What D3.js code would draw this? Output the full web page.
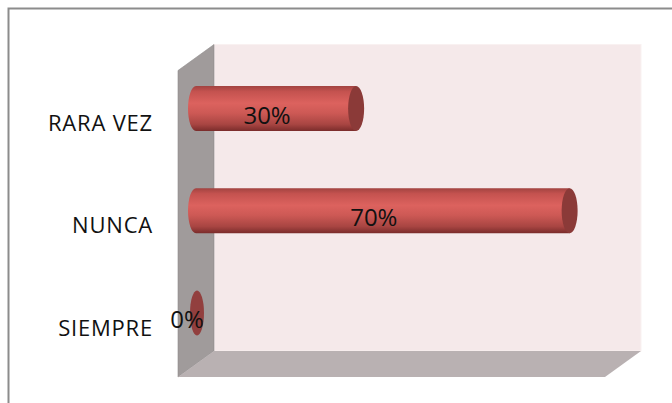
<!DOCTYPE html>
<html>
<head>
<meta charset="utf-8">
<script src="https://cdn.jsdelivr.net/npm/d3@7"></script>
<style>
  body { margin: 0; background: #fff; }
  text { font-family: "Open Sans", sans-serif; fill: #111; }
</style>
</head>
<body>
<div id="chart"></div>
<script>
// data
const categories = ["RARA VEZ", "NUNCA", "SIEMPRE"];
const values = [0.30, 0.70, 0.00];
const valueLabels = ["30%", "70%", "0%"];

const width = 672, height = 403;
const depth = { dx: 36, dy: -26 }; // front -> back offset of the 3d box

const svg = d3.select("#chart").append("svg")
    .attr("width", width)
    .attr("height", height);

// outer frame (runs off the page on the right and bottom)
svg.append("rect")
    .attr("x", 8.5).attr("y", 8.5)
    .attr("width", 700).attr("height", 420)
    .attr("fill", "none")
    .attr("stroke", "#8c8c8c")
    .attr("stroke-width", 2);

// scales work on the middle depth plane
const xScale = d3.scaleLinear().domain([0, 0.8]).range([196, 623]);
const yScale = d3.scaleBand().domain(categories)
    .range([57.5, 364])
    .paddingInner(0.56)
    .paddingOuter(0.28);

const x0 = xScale.range()[0], x1 = xScale.range()[1];
const y0 = yScale.range()[0], y1 = yScale.range()[1];
const fx = -depth.dx / 2, fy = -depth.dy / 2;   // to front plane
const bx = depth.dx / 2, by = depth.dy / 2;     // to back plane

const walls = svg.append("g").attr("class", "walls");

// back wall
walls.append("rect")
    .attr("x", x0 + bx).attr("y", y0 + by)
    .attr("width", x1 - x0).attr("height", y1 - y0)
    .attr("fill", "#f5e9ea")
    .attr("stroke", "#f9f1f1");

// left side wall
walls.append("path")
    .attr("d", d3.line()([
        [x0 + fx, y0 + fy], [x0 + bx, y0 + by],
        [x0 + bx, y1 + by], [x0 + fx, y1 + fy]
    ]) + "Z")
    .attr("fill", "#a09b9b")
    .attr("stroke", "#8f8b8b")
    .attr("stroke-width", 0.6);

// floor
walls.append("path")
    .attr("d", d3.line()([
        [x0 + fx, y1 + fy], [x0 + bx, y1 + by],
        [x1 + bx, y1 + by], [x1 + fx, y1 + fy]
    ]) + "Z")
    .attr("fill", "#b9b1b2");

// gradient for the cylinder body
const defs = svg.append("defs");
const grad = defs.append("linearGradient")
    .attr("id", "cyl")
    .attr("x1", 0).attr("y1", 0).attr("x2", 0).attr("y2", 1);
[
    [0, "#a24341"], [0.12, "#c4524f"], [0.38, "#dc625e"],
    [0.6, "#cd5955"], [0.85, "#a84542"], [1, "#7a2c2b"]
].forEach(s => grad.append("stop").attr("offset", s[0]).attr("stop-color", s[1]));

const rx = 8;
const bars = svg.append("g").attr("class", "bars")
    .selectAll("g")
    .data(categories)
    .enter().append("g");

bars.each(function(c, i) {
    const g = d3.select(this);
    const v = values[i];
    const top = yScale(c), bh = yScale.bandwidth(), ry = bh / 2;
    const cy = top + ry;
    const xs = xScale(0), xe = xScale(v);

    if (v > 0) {
        // body with rounded left end
        g.append("path")
            .attr("d", `M${xs},${top} L${xe},${top} L${xe},${top + bh} L${xs},${top + bh}` +
                `A${rx},${ry} 0 0 1 ${xs},${top} Z`)
            .attr("fill", "url(#cyl)");
        // right end cap
        g.append("ellipse")
            .attr("cx", xe).attr("cy", cy)
            .attr("rx", rx).attr("ry", ry)
            .attr("fill", "#8b3a38");
    } else {
        g.append("ellipse")
            .attr("cx", xe + 1).attr("cy", cy)
            .attr("rx", rx - 1).attr("ry", ry)
            .attr("fill", "#903534")
            .attr("opacity", 0.9);
    }

    // value label
    g.append("text")
        .attr("x", xScale(v / 2) + fx / 2)
        .attr("y", cy + 7)
        .attr("dy", "0.35em")
        .attr("text-anchor", "middle")
        .style("font-size", "24px")
        .text(valueLabels[i]);
});

// category labels
svg.append("g").attr("class", "cats")
    .selectAll("text")
    .data(categories)
    .enter().append("text")
    .attr("x", 153)
    .attr("y", d => yScale(d) + yScale.bandwidth() / 2 + 15)
    .attr("dy", "0.35em")
    .attr("text-anchor", "end")
    .style("font-size", "22px")
    .style("letter-spacing", "0.8px")
    .text(d => d);
</script>
</body>
</html>
